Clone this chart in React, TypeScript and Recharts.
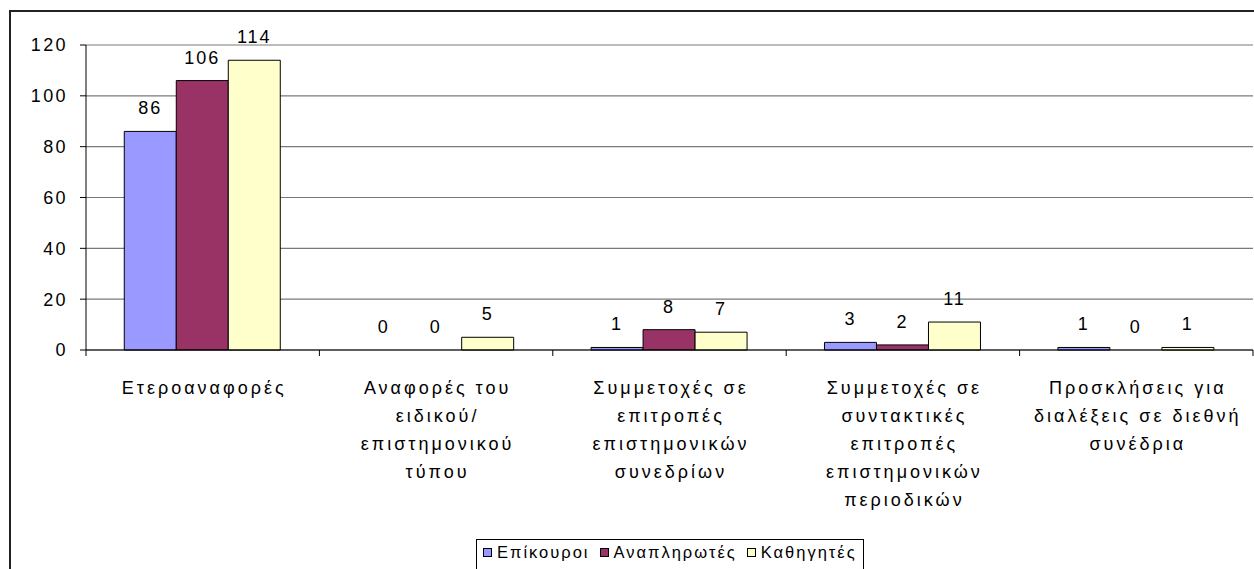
import { Bar, BarChart, CartesianGrid, LabelList, Rectangle, XAxis, YAxis } from "recharts";

const categories = [
  "Ετεροαναφορές",
  "Αναφορές του\nειδικού/\nεπιστημονικού\nτύπου",
  "Συμμετοχές σε\nεπιτροπές\nεπιστημονικών\nσυνεδρίων",
  "Συμμετοχές σε\nσυντακτικές\nεπιτροπές\nεπιστημονικών\nπεριοδικών",
  "Προσκλήσεις για\nδιαλέξεις σε διεθνή\nσυνέδρια"
];
const epikouroi = [86, 0, 1, 3, 1];
const anaplirotes = [106, 0, 8, 2, 0];
const kathigites = [114, 5, 7, 11, 1];
const yTicks = [0, 20, 40, 60, 80, 100, 120];

const series = [
  { key: "epikouroi", name: "Επίκουροι", color: "#9999FF" },
  { key: "anaplirotes", name: "Αναπληρωτές", color: "#993366" },
  { key: "kathigites", name: "Καθηγητές", color: "#FFFFCC" }
];

const data = categories.map((name, i) => ({
  name,
  epikouroi: epikouroi[i],
  anaplirotes: anaplirotes[i],
  kathigites: kathigites[i]
}));

const font = "'Liberation Sans', Arial, sans-serif";
const W = 1254;
const H = 569;
const plotLeft = 86;
const plotRight = 1;
const band = (W - plotLeft - plotRight) / categories.length;

function CategoryTick(props: any) {
  const { x, y, payload, index } = props;
  const lines = String(payload.value).split("\n");
  return (
    <g>
      <line x1={x - band / 2} x2={x - band / 2} y1={y - 8} y2={y - 2} stroke="#000" />
      {index === categories.length - 1 && (
        <line x1={x + band / 2} x2={x + band / 2} y1={y - 8} y2={y - 2} stroke="#000" />
      )}
      <text x={x + 1.5} y={y} textAnchor="middle" fontFamily={font} fontSize={18} letterSpacing={3} fill="#000">
        {lines.map((l, i) => (
          <tspan key={i} x={x + 1.5} dy={i === 0 ? 36 : 28}>
            {l}
          </tspan>
        ))}
      </text>
    </g>
  );
}

// zero values get no visible bar, only the label
function BarShape(props: any) {
  if (!props.value) return null;
  return <Rectangle {...props} />;
}

function LegendBox() {
  return (
    <div
      style={{
        position: "absolute",
        left: 476,
        top: 539,
        border: "1px solid #000",
        background: "#fff",
        display: "flex",
        padding: "3px 6px 8px 6px",
        fontFamily: font,
        fontSize: 16.5,
        letterSpacing: 2,
        gap: 10,
        whiteSpace: "nowrap"
      }}
    >
      {series.map((s) => (
        <span key={s.key} style={{ display: "inline-flex", alignItems: "center" }}>
          <span
            style={{
              width: 7,
              height: 7,
              background: s.color,
              border: "1px solid #000",
              marginRight: 5,
              display: "inline-block"
            }}
          />
          {s.name}
        </span>
      ))}
    </div>
  );
}

export default function App() {
  return (
    <div style={{ position: "absolute", left: 0, top: 0, width: W, height: H, overflow: "hidden", background: "#fff" }}>
      <div
        style={{
          position: "absolute",
          left: 9,
          top: 10,
          width: 1300,
          height: 700,
          border: "2px solid #222",
          boxSizing: "border-box"
        }}
      />
      <div style={{ position: "absolute", left: 0, top: 0 }}>
        <BarChart
          width={W}
          height={H}
          data={data}
          margin={{ top: 45, right: plotRight, left: 10, bottom: 39 }}
          barCategoryGap="16.4%"
          barGap={0}
        >
          <CartesianGrid vertical={false} stroke="#7a7a7a" strokeWidth={1.2} />
          <XAxis
            dataKey="name"
            height={180}
            interval={0}
            tickLine={false}
            axisLine={{ stroke: "#000" }}
            tick={<CategoryTick />}
          />
          <YAxis
            width={76}
            domain={[0, 120]}
            ticks={yTicks}
            tickSize={6}
            tickMargin={12}
            tickLine={{ stroke: "#000" }}
            axisLine={{ stroke: "#000" }}
            tick={{ fill: "#000", fontSize: 18, fontFamily: font, letterSpacing: 2.4 }}
          />
          <YAxis
            yAxisId="frame"
            orientation="right"
            width={0}
            domain={[0, 120]}
            tick={false}
            tickLine={false}
            axisLine={{ stroke: "#7a7a7a" }}
          />
          {series.map((s) => (
            <Bar
              key={s.key}
              dataKey={s.key}
              name={s.name}
              fill={s.color}
              stroke="#000"
              minPointSize={(v: number) => (v === 0 ? 0.01 : 0)}
              shape={<BarShape />}
              isAnimationActive={false}
            >
              <LabelList dataKey={s.key} position="top" offset={17} fill="#000" fontSize={18} fontFamily={font} letterSpacing={2} />
            </Bar>
          ))}
        </BarChart>
      </div>
      <LegendBox />
    </div>
  );
}
